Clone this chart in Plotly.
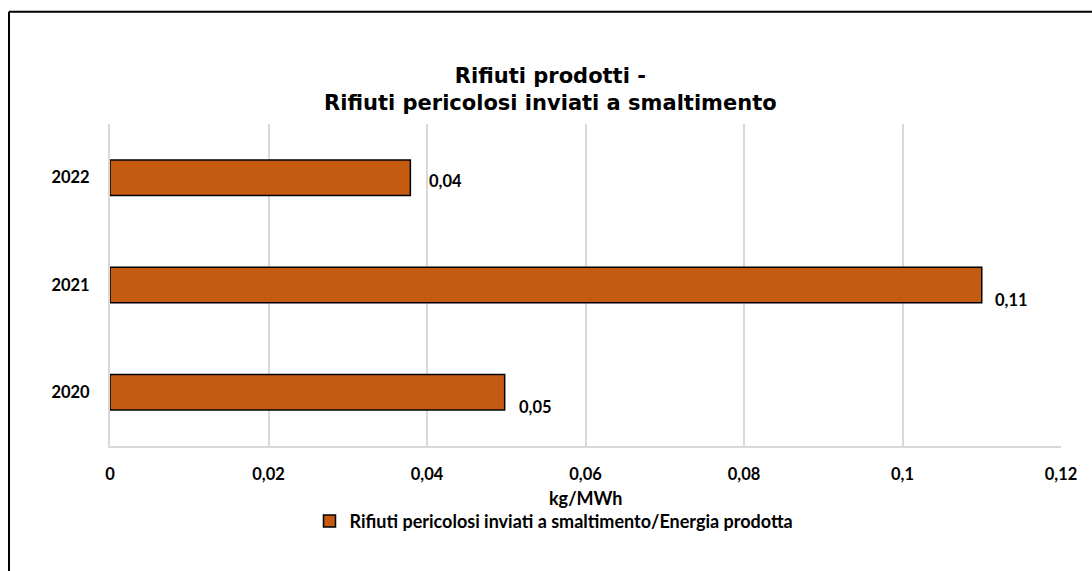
import plotly.graph_objects as go

# ── Dati ─────────────────────────────────────────────
anni = ["2020", "2021", "2022"]
valori = [0.0498, 0.110, 0.0379]
etichette = ["0,05", "0,11", "0,04"]
serie = "Rifiuti pericolosi inviati a smaltimento/Energia prodotta"
titolo = "Rifiuti prodotti -<br>Rifiuti pericolosi inviati a smaltimento"
unita = "kg/MWh"

# ── Stile ────────────────────────────────────────────
C_BAR = "#C55A11"
C_GRID = "#D9D9D9"
C_TEXT = "#000000"
F_CAL = "Lato, Open Sans, sans-serif"
FONT_TICK = dict(family=F_CAL, size=16.5, color=C_TEXT, weight="bold")

# spostamenti (px) delle etichette dati, come nel grafico originale
label_xshift = [12, 11, 17]
label_yshift = [-15, -15, -3]

fig = go.Figure(go.Bar(
    y=anni,
    x=valori,
    orientation="h",
    name=serie,
    marker=dict(color=C_BAR, line=dict(color="#000000", width=1.5)),
    hoverinfo="skip",
))

# etichette dati (y = indice della categoria, per non falsare l'autorange)
annotations = []
for i, (v, lab, dx, dy) in enumerate(zip(valori, etichette, label_xshift, label_yshift)):
    annotations.append(dict(
        x=v, y=i, xref="x", yref="y",
        text=lab, showarrow=False,
        xanchor="left", yanchor="middle",
        xshift=dx, yshift=dy,
        font=FONT_TICK,
    ))

# titolo asse x
annotations.append(dict(
    x=0.5, y=-0.162, xref="paper", yref="paper",
    text=unita, showarrow=False,
    xanchor="center", yanchor="middle",
    font=dict(family=F_CAL, size=18, color=C_TEXT, weight="bold"),
))

# bordo del grafico (solo lato superiore e sinistro visibili)
X_L = (9 - 110) / 951
X_R = (1100 - 110) / 951
Y_T = (446 - 13) / 321
Y_B = (446 - 580) / 321
shapes = [
    dict(type="line", xref="paper", yref="paper", x0=X_L, x1=X_R, y0=Y_T, y1=Y_T,
         line=dict(color="#000000", width=2)),
    dict(type="line", xref="paper", yref="paper", x0=X_L, x1=X_L, y0=Y_T, y1=Y_B,
         line=dict(color="#000000", width=2)),
]

fig.update_layout(
    width=1092,
    height=571,
    paper_bgcolor="#FFFFFF",
    plot_bgcolor="#FFFFFF",
    margin=dict(l=110, r=31, t=124, b=125),
    title=dict(
        text=titolo,
        x=0.504, xanchor="center",
        y=1 - 83 / 571, yanchor="middle",
        font=dict(family="DejaVu Sans, sans-serif", size=21, color=C_TEXT, weight="bold"),
    ),
    showlegend=True,
    legend=dict(
        orientation="h",
        x=(554 - 110) / 951, xanchor="center",
        y=(446 - 521) / 321, yanchor="middle",
        font=dict(family=F_CAL, size=18, color=C_TEXT, weight="bold"),
        bgcolor="rgba(0,0,0,0)",
        itemwidth=30,
    ),
    annotations=annotations,
    shapes=shapes,
    bargap=0.67,
    separators=",.",
)

fig.update_xaxes(
    range=[0, 0.12],
    dtick=0.02,
    showgrid=True,
    gridcolor=C_GRID,
    gridwidth=1.5,
    zeroline=False,
    showline=True,
    linecolor=C_GRID,
    linewidth=2,
    ticks="",
    ticklabelstandoff=12,
    tickfont=FONT_TICK,
)
fig.update_yaxes(
    type="category",
    range=[-0.5, 2.5],
    showgrid=False,
    showline=True,
    linecolor=C_GRID,
    linewidth=2,
    ticks="outside",
    ticklen=15,
    tickcolor="rgba(0,0,0,0)",
    tickfont=FONT_TICK,
)

fig.write_html("out.html", config={"displayModeBar": False},
               post_script="document.body.style.margin='0px';")
